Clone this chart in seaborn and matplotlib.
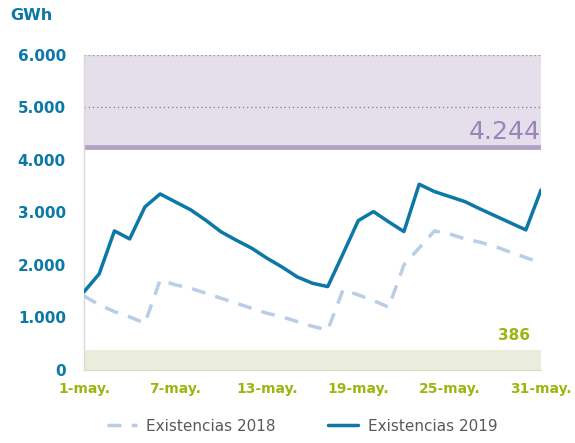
import matplotlib
matplotlib.use("Agg")
import matplotlib.pyplot as plt
import seaborn as sns
import pandas as pd

# data (GWh per day of May)
days = list(range(1, 32))
exist_2018 = [1410, 1240, 1110, 1010, 889, 1710, 1620, 1556, 1460, 1365,
              1270, 1175, 1080, 1010, 920, 830, 760, 1524, 1430, 1320,
              1194, 2000, 2324, 2648, 2590, 2495, 2432, 2349, 2241, 2140, 2032]
exist_2019 = [1486, 1829, 2648, 2495, 3105, 3352, 3200, 3050, 2850, 2630,
              2470, 2320, 2130, 1960, 1771, 1650, 1587, 2210, 2843, 3016,
              2820, 2635, 3537, 3397, 3302, 3206, 3066, 2933, 2800, 2667, 3429]
tick_days = [1, 7, 13, 19, 25, 31]
tick_labels = ["1-may.", "7-may.", "13-may.", "19-may.", "25-may.", "31-may."]
upper_level = 4244
lower_level = 386

df = pd.DataFrame({"dia": days * 2,
                   "GWh": exist_2018 + exist_2019,
                   "serie": ["Existencias 2018"] * 31 + ["Existencias 2019"] * 31})

sns.set_style("white")
plt.rcParams["font.family"] = ["DejaVu Sans"]

blue = "#0b78a8"
green = "#9ab70f"
purple = "#9b85b8"

fig = plt.figure(figsize=(5.75, 4.43), dpi=100)
ax = fig.add_axes([0.146, 0.165, 0.795, 0.711])

# bands
ax.axhspan(upper_level, 6000, color="#e5dfec", zorder=0, lw=0)
ax.axhspan(0, lower_level, color="#ebeddc", zorder=0, lw=0)
ax.axhline(upper_level, color="#b3a2c7", lw=3.5, zorder=1)
for yv in [5000, 6000]:
    ax.axhline(yv, color="#8c8c8c", lw=1, ls=(0, (1, 2)), zorder=1)

sns.lineplot(data=df, x="dia", y="GWh", hue="serie", style="serie",
             palette={"Existencias 2018": "#b9cde5", "Existencias 2019": blue},
             dashes={"Existencias 2018": (4, 3), "Existencias 2019": ""},
             linewidth=2.5, ax=ax, zorder=3)

ax.text(31, upper_level + 60, "4.244", color=purple, fontsize=18,
        ha="right", va="bottom")
ax.text(30.3, lower_level + 120, "386", color=green, fontsize=11,
        fontweight="bold", ha="right", va="bottom")

ax.set_xlim(1, 31)
ax.set_ylim(0, 6000)
ax.set_yticks([0, 1000, 2000, 3000, 4000, 5000, 6000])
ax.set_yticklabels(["0", "1.000", "2.000", "3.000", "4.000", "5.000", "6.000"],
                   color=blue, fontsize=11, fontweight="bold")
ax.set_xticks(tick_days)
ax.set_xticklabels(tick_labels, color=green, fontsize=10, fontweight="bold")
ax.tick_params(axis="x", length=4, color=green, width=1, pad=5)
ax.tick_params(axis="y", length=0, pad=13)
ax.set_xlabel("")
ax.set_ylabel("")

for side in ["top", "right"]:
    ax.spines[side].set_visible(False)
ax.spines["left"].set_color("#d9d9d9")
ax.spines["left"].set_linewidth(1)
ax.spines["bottom"].set_color("#d8dcc0")
ax.spines["bottom"].set_linewidth(0.8)

fig.text(0.017, 0.965, "GWh", color=blue, fontsize=11.5, fontweight="bold",
         ha="left", va="center")

ax.legend_.remove()
handles, labels = ax.get_legend_handles_labels()
leg = fig.legend(handles, labels, loc="lower center", bbox_to_anchor=(0.525, -0.01),
                 ncol=2, frameon=False, fontsize=11, handlelength=2,
                 handletextpad=0.6, columnspacing=3.4)
for t in leg.get_texts():
    t.set_color("#595959")

fig.savefig("out.png", dpi=100)
